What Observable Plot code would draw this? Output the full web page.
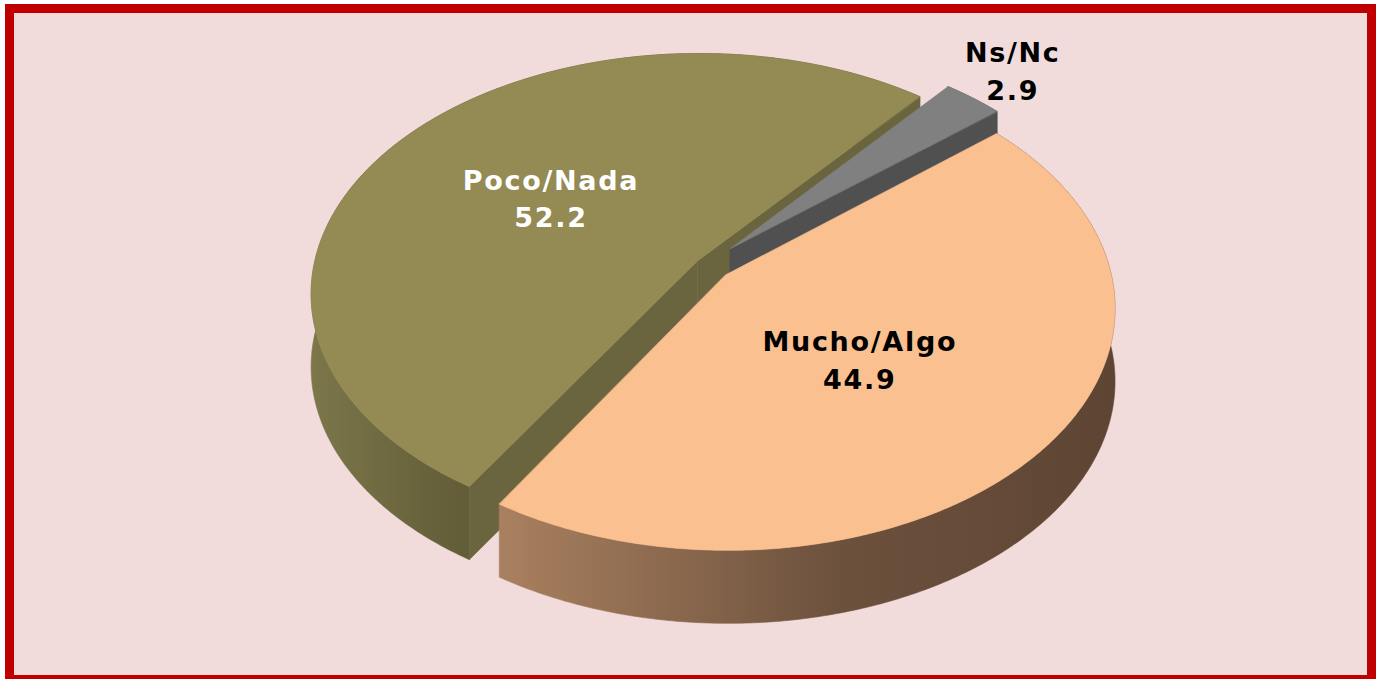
<!DOCTYPE html>
<html><head><meta charset="utf-8">
<script src="https://cdn.jsdelivr.net/npm/d3@7"></script>
<script src="https://cdn.jsdelivr.net/npm/@observablehq/plot@0.6"></script>
<style>
html,body{margin:0;padding:0;background:#fff;overflow:hidden;width:1381px;height:679px}
#frame{position:absolute;left:5px;top:4px;width:1371px;height:680px;box-sizing:border-box;border:9px solid #C00000;background:#F2DCDB}
#chart{position:absolute;left:0;top:0}
#chart text{letter-spacing:1.7px}
</style></head><body>
<div id="frame"></div>
<svg width="0" height="0" style="position:absolute">
<defs>
<linearGradient id="gMucho" gradientUnits="userSpaceOnUse" x1="502" y1="0" x2="1112" y2="0">
<stop offset="0" stop-color="#a9805f"/><stop offset="0.55" stop-color="#6c513d"/><stop offset="1" stop-color="#5e4533"/>
</linearGradient>
<linearGradient id="gPoco" gradientUnits="userSpaceOnUse" x1="305" y1="0" x2="478" y2="0">
<stop offset="0" stop-color="#7d774b"/><stop offset="1" stop-color="#605a36"/>
</linearGradient>
</defs></svg>
<div id="chart"></div>
<script>
// ---- data ----
const categories = ["Mucho/Algo", "Poco/Nada", "Ns/Nc"];
const values = [44.9, 52.2, 2.9];

// ---- styles ----
const W = 1381, H = 679;
const sliceStyle = {
  "Mucho/Algo": {top: "#FAC090", face: "#7a5b43", wall: "url(#gMucho)", text: "#000000", explode: 0.047, explodeTurn: 0,   labelR: 0.44, labelDy: 12},
  "Poco/Nada":  {top: "#948A54", face: "#6b653f", wall: "url(#gPoco)",  text: "#ffffff", explode: 0.047, explodeTurn: 0,   labelR: 0.49, labelDy: 0},
  "Ns/Nc":      {top: "#808080", face: "#505050", wall: "#5a5a5a",      text: "#000000", explode: 0.093, explodeTurn: -14, labelR: 1.18, labelDy: -5}
};
const drawOrder = ["Poco/Nada", "Ns/Nc", "Mucho/Algo"];
const view = {cx: 711.5, cy: 267, A: 384, B: 236.8, t: 0.133, depth: 73, start: 50};

function proj(u, v, dz = 0) {
  const w = 1 - view.t * v;
  return {x: view.cx + view.A * u / w, y: view.cy + view.B * v / w + dz};
}

const rad = Math.PI / 180;
const arcs = d3.pie().sort(null)
  .startAngle(view.start * rad).endAngle((view.start + 360) * rad)(values);

const slices = arcs.map((a, i) => {
  const name = categories[i];
  const st = sliceStyle[name];
  const a0 = a.startAngle, a1 = a.endAngle, mid = (a0 + a1) / 2;
  const ex = mid + st.explodeTurn * rad;
  const du = st.explode * Math.sin(ex), dv = -st.explode * Math.cos(ex);
  const rim = (ang, dz) => proj(du + Math.sin(ang), dv - Math.cos(ang), dz);
  const ctr = dz => proj(du, dv, dz);
  const n = Math.max(2, Math.ceil((a1 - a0) / (0.5 * rad)));
  const angs = d3.range(n + 1).map(k => a0 + (a1 - a0) * k / n);
  const D = view.depth;
  const polys = [];
  // outer wall
  polys.push({pts: [...angs.map(g => rim(g, 0)), ...angs.slice().reverse().map(g => rim(g, D))], fill: st.wall});
  // radial cut faces (visible ones)
  if (Math.sin(a0) < 0) polys.push({pts: [ctr(0), rim(a0, 0), rim(a0, D), ctr(D)], fill: st.face});
  if (Math.sin(a1) > 0) polys.push({pts: [ctr(0), rim(a1, 0), rim(a1, D), ctr(D)], fill: st.face});
  // top
  polys.push({pts: [ctr(0), ...angs.map(g => rim(g, 0))], fill: st.top});
  const lp = proj(du + st.labelR * Math.sin(mid), dv - st.labelR * Math.cos(mid));
  const label = {x: lp.x, y: lp.y + st.labelDy, text: name + "\n" + values[i].toFixed(1), color: st.text};
  return {name, polys, label};
});

const marks = [];
for (const name of drawOrder) {
  const s = slices.find(d => d.name === name);
  for (const p of s.polys) {
    marks.push(Plot.line(p.pts, {x: "x", y: "y", fill: p.fill, stroke: p.fill, strokeWidth: 0.6, curve: "linear-closed"}));
  }
}
marks.push(Plot.text(slices.map(s => s.label), {
  x: "x", y: "y", text: "text", fill: "color",
  fontSize: 27, fontWeight: "bold", fontFamily: "DejaVu Sans", lineHeight: 1.4
}));

const chart = Plot.plot({
  width: W, height: H, margin: 0,
  x: {domain: [0, W], range: [0, W], axis: null},
  y: {domain: [0, H], range: [0, H], axis: null},
  color: {type: "identity"},
  style: {background: "transparent", overflow: "visible"},
  marks
});
document.getElementById("chart").appendChild(chart);
</script>
</body></html>
